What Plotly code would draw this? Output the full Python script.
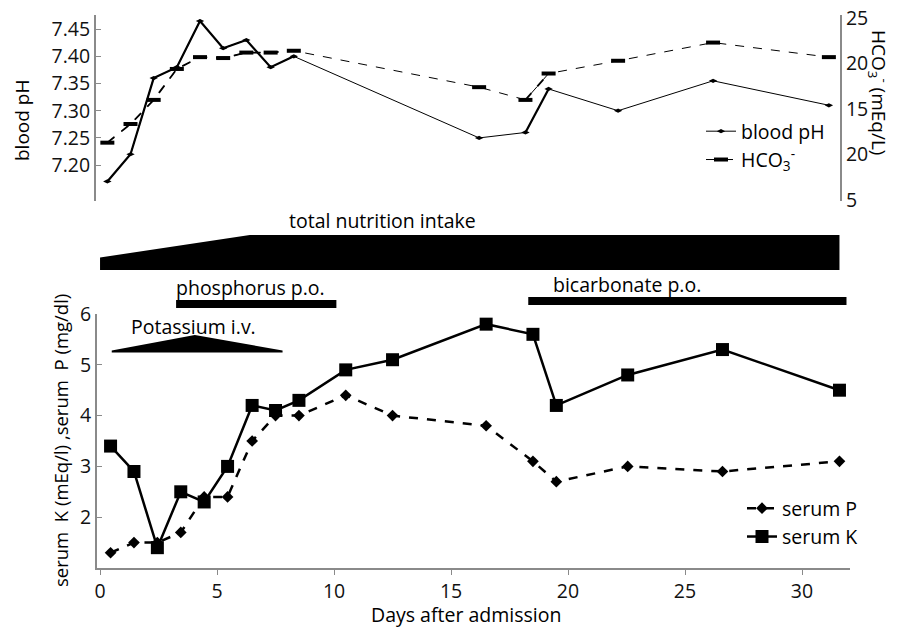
import plotly.graph_objects as go

# ---------------- data ----------------
days_blood = [0.45, 1.45, 2.45, 3.45, 4.45, 5.45, 6.45, 7.5, 8.5, 16.5, 18.5, 19.5, 22.5, 26.6, 31.6]
blood_ph = [7.17, 7.22, 7.36, 7.38, 7.465, 7.415, 7.43, 7.38, 7.40, 7.25, 7.26, 7.34, 7.30, 7.355, 7.31]
hco3 = [11.3, 13.35, 16.0, 19.4, 20.7, 20.6, 21.2, 21.2, 21.4, 17.4, 16.0, 18.9, 20.3, 22.3, 20.7]

days_serum = [0.45, 1.45, 2.45, 3.45, 4.45, 5.45, 6.5, 7.5, 8.5, 10.5, 12.5, 16.5, 18.5, 19.5, 22.55, 26.6, 31.6]
serum_p = [1.3, 1.5, 1.5, 1.7, 2.4, 2.4, 3.5, 4.0, 4.0, 4.4, 4.0, 3.8, 3.1, 2.7, 3.0, 2.9, 3.1]
serum_k = [3.4, 2.9, 1.4, 2.5, 2.3, 3.0, 4.2, 4.1, 4.3, 4.9, 5.1, 5.8, 5.6, 4.2, 4.8, 5.3, 4.5]

nutrition_days = [0.0, 6.4, 31.6]      # start, end of ramp-up, end
phosphorus_days = [3.25, 10.1]
potassium_days = [0.5, 4.05, 7.8]      # start, peak, end
bicarbonate_days = [18.3, 31.9]

ph_ticks = [7.20, 7.25, 7.30, 7.35, 7.40, 7.45]
hco3_tickvals = [5, 10, 15, 20, 25]
hco3_ticktext = ["5", "20", "15", "20", "25"]
serum_ticks = [2, 3, 4, 5, 6]
day_ticks = [0, 5, 10, 15, 20, 25, 30]

W, H = 899, 629
FONT = "Open Sans"
FS = 19.5
def px(x):
    return x / W
def py(y):
    return 1 - y / H

fig = go.Figure()

# ---------- top panel ----------
thick_ph = [list(range(0, 9)), [10, 11]]
fig.add_trace(go.Scatter(x=days_blood, y=blood_ph, mode="lines+markers", name="blood pH",
                         line=dict(color="black", width=1),
                         marker=dict(symbol="diamond-wide", size=6, color="black"),
                         xaxis="x2", yaxis="y2", legend="legend"))
for seg in thick_ph:
    fig.add_trace(go.Scatter(x=[days_blood[i] for i in seg], y=[blood_ph[i] for i in seg],
                             mode="lines", line=dict(color="black", width=2.2),
                             showlegend=False, xaxis="x2", yaxis="y2", hoverinfo="skip"))
fig.add_trace(go.Scatter(x=days_blood, y=hco3, mode="lines+markers", name="HCO<sub>3</sub><sup>-</sup>",
                         line=dict(color="black", width=1, dash="dash"),
                         marker=dict(symbol="line-ew", size=10, color="black",
                                     line=dict(color="black", width=4)),
                         xaxis="x2", yaxis="y3", legend="legend"))
for seg in thick_ph:
    fig.add_trace(go.Scatter(x=[days_blood[i] for i in seg], y=[hco3[i] for i in seg],
                             mode="lines", line=dict(color="black", width=1.8, dash="dash"),
                             showlegend=False, xaxis="x2", yaxis="y3", hoverinfo="skip"))

# ---------- bottom panel ----------
fig.add_trace(go.Scatter(x=days_serum, y=serum_p, mode="lines+markers", name="serum P",
                         line=dict(color="black", width=2.5, dash="dash"),
                         marker=dict(symbol="diamond", size=9, color="black"),
                         xaxis="x", yaxis="y", legend="legend2"))
fig.add_trace(go.Scatter(x=days_serum, y=serum_k, mode="lines+markers", name="serum K",
                         line=dict(color="black", width=2.5),
                         marker=dict(symbol="square", size=13, color="black"),
                         xaxis="x", yaxis="y", legend="legend2"))

# ---------- treatment shapes (x in days, y in paper) ----------
n0, n1, n2 = nutrition_days
fig.add_shape(type="path", xref="x", yref="paper", fillcolor="black", line=dict(width=0),
              path=f"M {n0},{py(270)} L {n0},{py(257.5)} L {n1},{py(235)} L {n2},{py(235)} L {n2},{py(270)} Z")
fig.add_shape(type="rect", xref="x", yref="paper", fillcolor="black", line=dict(width=0),
              x0=phosphorus_days[0], x1=phosphorus_days[1], y0=py(308), y1=py(300))
fig.add_shape(type="rect", xref="x", yref="paper", fillcolor="black", line=dict(width=0),
              x0=bicarbonate_days[0], x1=bicarbonate_days[1], y0=py(305), y1=py(297))
k0, k1, k2 = potassium_days
fig.add_shape(type="path", xref="x", yref="paper", fillcolor="black", line=dict(width=0),
              path=f"M {k0},{py(352.5)} L {k0},{py(350.5)} L {k1},{py(335)} L {k2},{py(350.5)} L {k2},{py(352.5)} Z")

def ann(text, x, y, size=FS, angle=0, xanchor="center"):
    fig.add_annotation(text=text, x=px(x), y=py(y), xref="paper", yref="paper", showarrow=False,
                       textangle=angle, xanchor=xanchor, yanchor="middle",
                       font=dict(family=FONT, size=size, color="black"))

ann("total nutrition intake", 382, 220)
ann("phosphorus p.o.", 251, 287)
ann("bicarbonate p.o.", 627, 284)
ann("Potassium i.v.", 193, 326)
ann("blood pH", 22, 121, size=19, angle=-90)
ann("HCO<sub>3</sub><sup>-</sup> (mEq/L)", 879, 92, size=19, angle=90)
ann("serum  K (mEq/l) ,serum  P (mg/dl)", 60, 441, size=18.5, angle=-90)
ann("Days after admission", 466, 614)

axis_common = dict(showgrid=False, zeroline=False, showline=True, linecolor="#8a8a8a", linewidth=2,
                   tickfont=dict(family=FONT, size=FS, color="#111"), automargin=False,
                   ticklen=5, tickcolor="#8a8a8a")

fig.update_layout(
    width=W, height=H, margin=dict(l=0, r=0, t=0, b=0),
    paper_bgcolor="white", plot_bgcolor="white",
    font=dict(family=FONT, size=FS, color="black"),
    xaxis=dict(domain=[px(97), px(850)], range=[-0.13, 32.05], anchor="y",
               tickvals=day_ticks, ticks="outside", **axis_common),
    yaxis=dict(domain=[py(568), py(314)], range=[1, 6], anchor="x",
               tickvals=serum_ticks, ticks="inside", **axis_common),
    xaxis2=dict(domain=[px(96), px(840)], range=[-0.04, 32.08], anchor="y2",
                visible=False),
    yaxis2=dict(domain=[py(201), py(15)], range=[7.134, 7.476], anchor="x2",
                tickvals=ph_ticks, tickformat=".2f", ticks="inside", **axis_common),
    yaxis3=dict(range=[4.89, 25.33], overlaying="y2", side="right", anchor="x2",
                tickvals=hco3_tickvals, ticktext=hco3_ticktext, ticks="", **axis_common),
    legend=dict(x=px(701), y=py(112), xanchor="left", yanchor="top", bgcolor="rgba(0,0,0,0)",
                font=dict(family=FONT, size=FS), tracegroupgap=0, itemwidth=30),
    legend2=dict(x=px(742), y=py(489), xanchor="left", yanchor="top", bgcolor="rgba(0,0,0,0)",
                 font=dict(family=FONT, size=FS), tracegroupgap=0, itemwidth=30),
    showlegend=True,
)

fig.write_html("out.html", config={"displayModeBar": False},
               post_script="document.body.style.margin='0px';")
